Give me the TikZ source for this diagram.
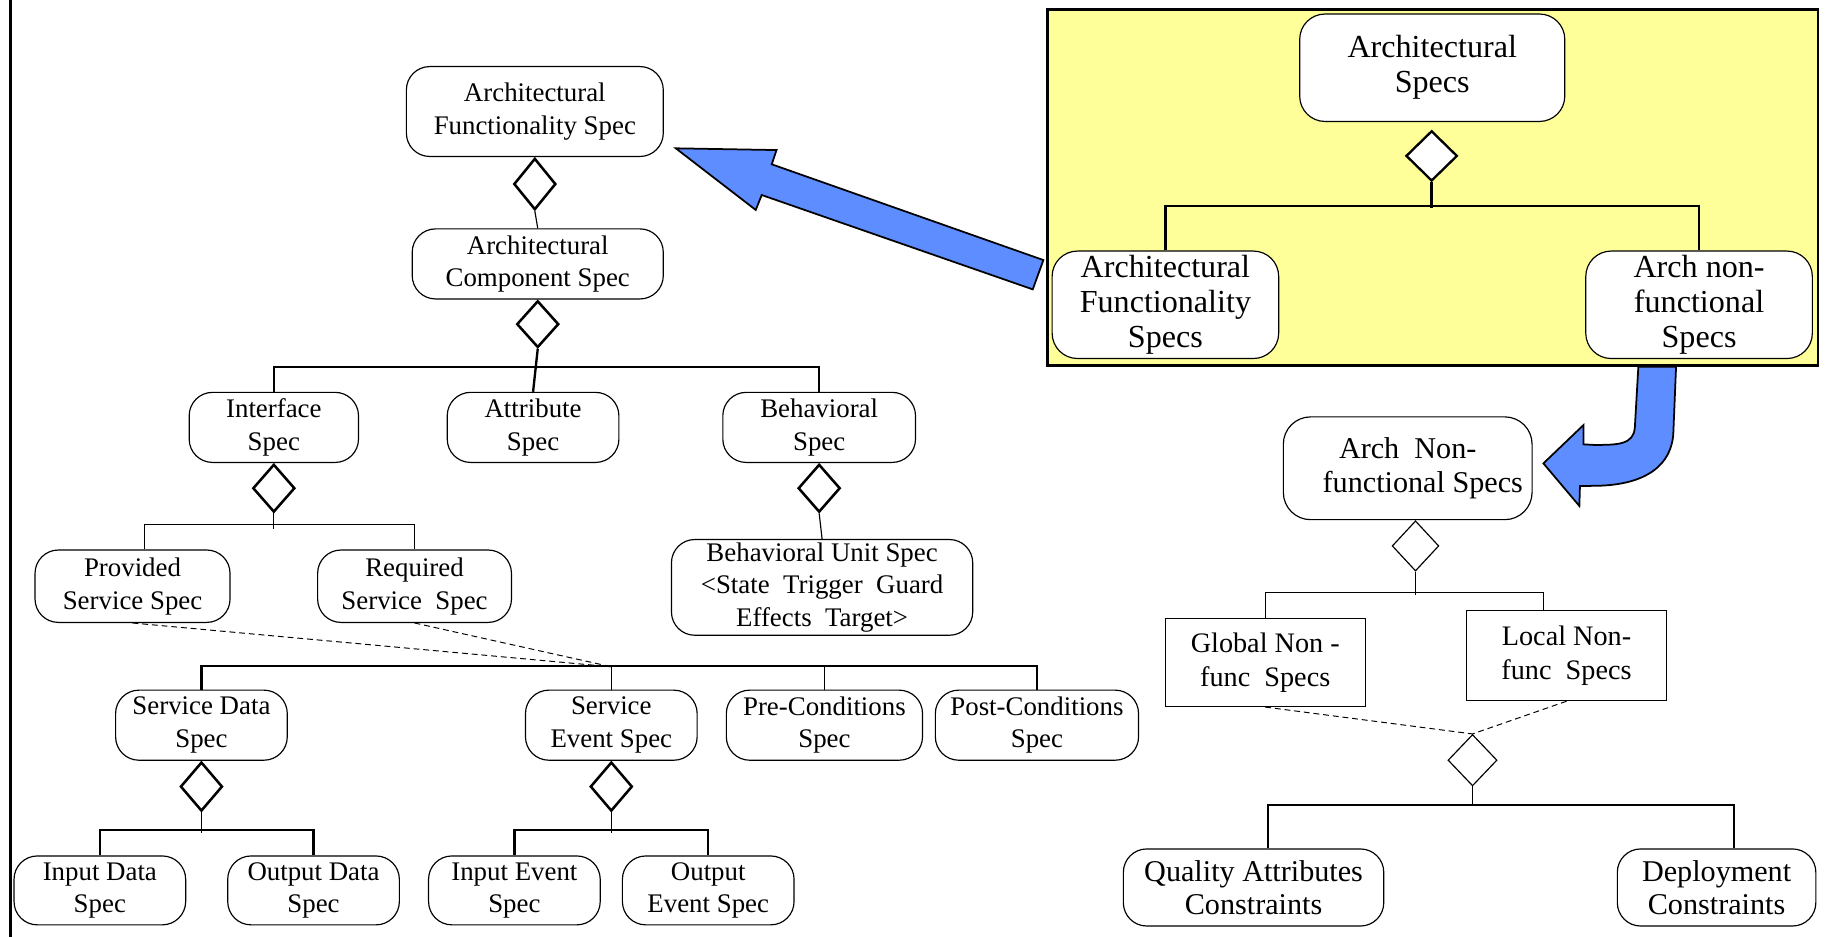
\documentclass[tikz,border=0pt]{standalone}
\usepackage{fontspec}
\setmainfont{Liberation Serif}
\usetikzlibrary{shapes.geometric}
\definecolor{arrowblue}{RGB}{94,141,255}
\definecolor{paleyellow}{RGB}{255,255,153}
\newcommand\fntL{\fontsize{13.8pt}{16.8pt}\selectfont}
\newcommand\fntY{\fontsize{16.5pt}{18pt}\selectfont}
\newcommand\fntR{\fontsize{15.5pt}{17pt}\selectfont}
\newcommand\fntG{\fontsize{14.5pt}{17.4pt}\selectfont}
\begin{document}
\begin{tikzpicture}[x=0.6pt,y=-0.6pt,
  sz/.style 2 args={minimum width=#1*0.6pt, minimum height=#2*0.6pt},
  rbox/.style={draw, rounded corners=12pt, fill=white, align=center, inner sep=0pt, line width=0.6pt, font=\fntL},
  ybox/.style={rbox, rounded corners=13pt, font=\fntY},
  rrbox/.style={rbox, font=\fntR},
  sbox/.style={draw, fill=white, align=center, inner sep=0pt, line width=0.6pt, font=\fntG},
  dia/.style={draw, diamond, fill=white, inner sep=0pt, line width=1.3pt},
  thindia/.style={dia, line width=0.6pt},
  thk/.style={line width=1.2pt},
  thn/.style={line width=0.6pt},
  dsh/.style={dashed, line width=0.5pt, dash pattern=on 3pt off 2pt},
  blue arrow/.style={fill=arrowblue, draw=black, line width=0.9pt, line join=miter}]
\useasboundingbox (0,0) rectangle (1568,802);
% left border
\draw[thk] (9,0) -- (9,802);
% yellow box
\draw[fill=paleyellow, line width=1.2pt] (897,8) rectangle (1557,313);
% blue arrows
\draw[blue arrow] (578.7,127) -- (665,128.5) -- (660.9,140.7) -- (893.5,222.7) -- (884.4,247.8) -- (652.3,167) -- (647.2,179.8) -- cycle;
\draw[blue arrow] (1403,314) -- (1400,366) .. controls (1399,381) and (1385,381) .. (1365,381) -- (1356,380.5) -- (1356,364) -- (1321.7,396.8) -- (1352.5,433.3) -- (1353,416.2) -- (1368,416) .. controls (1410,415) and (1432,398) .. (1433,370) -- (1435.3,314) -- cycle;

% ---------- left tree ----------
\node[rbox, sz={220}{77}] (afs) at (458,95.5) {Architectural\\Functionality Spec};
\node[rbox, sz={215}{60}] (acs) at (460.5,226) {Architectural\\Component Spec};
\node[dia, sz={36}{44}, anchor=north] (d1) at (afs.south) {};
\draw[thn] (d1.south) -- (acs.north);
\node[dia, sz={36}{40}, anchor=north] (d2) at (acs.south) {};

\node[rbox, sz={145}{60}] (intf) at (234.5,366) {Interface\\Spec};
\node[rbox, sz={147}{60}] (attr) at (456.5,366) {Attribute\\Spec};
\node[rbox, sz={165}{60}] (beh) at (701.5,366) {Behavioral\\Spec};
\draw[thk] (d2.south) -- (attr.north);
\draw[thk] (intf.north) -- ++(0,-21) -| (beh.north);

\node[dia, sz={36}{41}, anchor=north] (d3) at (intf.south) {};
\node[dia, sz={36}{41}, anchor=north] (d4) at (beh.south) {};
\node[rbox, sz={167}{62}] (prov) at (113.5,502) {Provided\\Service Spec};
\node[rbox, sz={166}{62}] (req) at (355,502) {Required\\Service\ \ Spec};
\node[rbox, sz={258}{82}] (bunit) at (704,503) {Behavioral Unit Spec\\{<}State\ \ Trigger\ \ Guard\\Effects\ \ Target{>}};
\draw[thn] (d3.south) -- ++(0,13);
\draw[thn] ([xshift=6pt]prov.north) -- ++(0,-21) -| (req.north);
\draw[thn] (d4.south) -- (bunit.north);

\node[rbox, sz={147}{60}] (sdata) at (172.5,621) {Service Data\\Spec};
\node[rbox, sz={147}{60}] (sevt) at (523.5,621) {Service\\Event Spec};
\node[rbox, sz={168}{60}] (pre) at (706,621) {Pre-Conditions\\Spec};
\node[rbox, sz={174}{60}] (post) at (888,621) {Post-Conditions\\Spec};
\coordinate (busS) at (523.5,571);
\draw[thk] (sdata.north) -- ++(0,-20) -| (post.north);
\draw[thn] (sevt.north) -- (busS);
\draw[thn] (pre.north) -- ++(0,-20);
\draw[dsh] (prov.south) -- (busS);
\draw[dsh] (req.south) -- (busS);

\node[dia, sz={36}{42}, anchor=north] (d5) at (sdata.south) {};
\node[dia, sz={36}{42}, anchor=north] (d6) at (sevt.south) {};
\node[rbox, sz={147}{59}] (indata) at (85.5,762.5) {Input Data\\Spec};
\node[rbox, sz={147}{59}] (outdata) at (268.5,762.5) {Output Data\\Spec};
\node[rbox, sz={147}{59}] (inevt) at (440.5,762.5) {Input Event\\Spec};
\node[rbox, sz={147}{59}] (outevt) at (606.5,762.5) {Output\\Event Spec};
\draw[thn] (d5.south) -- ++(0,18);
\draw[thk] (indata.north) -- ++(0,-22) -| (outdata.north);
\draw[thn] (d6.south) -- ++(0,18);
\draw[thk] (inevt.north) -- ++(0,-22) -| (outevt.north);

% ---------- yellow tree ----------
\node[ybox, sz={227}{92}] (archspecs) at (1226.5,58) {Architectural\\Specs};
\node[dia, sz={44}{43}, line width=1.2pt] (dY) at (1226,133.5) {};
\node[ybox, sz={194}{92}] (afspecs) at (998,261) {Architectural\\Functionality\\Specs};
\node[ybox, sz={194}{92}] (anfspecs) at (1455,261) {Arch non-\\functional\\Specs};
\draw[thk] (dY.south) -- ++(0,22);
\draw[thk] (afspecs.north) -- ++(0,-38) -| (anfspecs.north);

% ---------- right lower tree ----------
\node[rrbox, rounded corners=14pt, sz={213}{88}] (anf) at (1205.5,401) {Arch\ \ Non-\\\ \ \ \ functional Specs};
\node[thindia, sz={40}{43}, anchor=north] (dA) at ([xshift=4pt]anf.south) {};
\node[sbox, sz={171}{75}] (glob) at (1083.5,567.5) {Global Non -\\func\ \ Specs};
\node[sbox, sz={171}{77}] (loc) at (1341.5,561.5) {Local Non-\\func\ \ Specs};
\draw[thn] (dA.south) -- ++(0,20);
\draw[thn] (glob.north) -- ++(0,-22) -| ([xshift=-12pt]loc.north);
\node[thindia, sz={42}{44}] (dB) at (1261,651) {};
\draw[dsh] (glob.south) -- (dB.north);
\draw[dsh] (loc.south) -- (dB.north);
\node[rrbox, sz={223}{66}] (qual) at (1073.5,760) {Quality Attributes\\Constraints};
\node[rrbox, sz={170}{66}] (dep) at (1470,760) {Deployment\\Constraints};
\draw[thn] (dB.south) -- ++(0,17);
\draw[thk] ([xshift=7.5pt]qual.north) -- ++(0,-37) -| ([xshift=9pt]dep.north);
\end{tikzpicture}
\end{document}
